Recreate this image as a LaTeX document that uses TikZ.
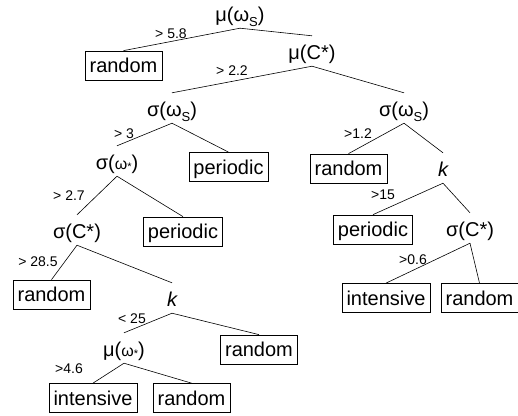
\documentclass[tikz,border=0pt]{standalone}
\usepackage{fontspec}
\setmainfont{Liberation Sans}
% subscript S and the small omega-star used in the split labels
\newcommand{\omS}{ω\raisebox{-0.28em}{\fontsize{13}{13}\selectfont S}}
\newcommand{\omStar}{{\fontsize{16}{16}\selectfont ω}\raisebox{-0.05em}{\fontsize{11}{11}\selectfont *}}
\begin{document}
\begin{tikzpicture}[x=1pt,y=-1pt,
  split/.style={inner sep=0pt, text height=23pt, text depth=7pt, anchor=base,
    font=\fontsize{20}{23}\selectfont},
  leaf/.style={draw, line width=0.75pt, inner xsep=4.6pt, inner ysep=0pt,
    minimum height=29pt, text height=14pt, text depth=0pt,
    font=\fontsize{20}{23}\selectfont},
  cond/.style={inner sep=0pt, font=\fontsize{14}{16}\selectfont},
  branch/.style={line width=0.6pt}]
\useasboundingbox (0,0) rectangle (518,415);

% decision nodes
\node[split] (m1) at (240,21)  {μ(\omS)};
\node[split] (m2) at (312,59)  {μ(C*)};
\node[split] (s1) at (172,116) {σ(\omS)};
\node[split] (s2) at (404,116) {σ(\omS)};
\node[split] (s3) at (117,169) {σ(\omStar)};
\node[split] (s4) at (77,238)  {σ(C*)};
\node[split] (k1) at (172,306) {\itshape k};
\node[split] (m3) at (124,356) {μ(\omStar)};
\node[split] (k2) at (443,176) {\itshape k};
\node[split] (s5) at (470,236) {σ(C*)};

% class leaves
\node[leaf] (r1) at (123.5,65.5) {random};
\node[leaf] (p1) at (228.5,167)  {periodic};
\node[leaf] (p2) at (183,231.5)  {periodic};
\node[leaf] (r2) at (51.5,294.5) {random};
\node[leaf] (r3) at (259,349.5)  {random};
\node[leaf] (i1) at (93,398)     {intensive};
\node[leaf] (r4) at (191.5,398)  {random};
\node[leaf] (r5) at (348.5,168.5) {random};
\node[leaf] (p3) at (373,229.5)  {periodic};
\node[leaf] (i2) at (386,298)    {intensive};
\node[leaf] (r6) at (479.5,298)  {random};

% branches
\foreach \a/\b in {m1/r1, m1/m2, m2/s1, m2/s2, s1/s3, s1/p1, s3/s4, s3/p2,
                   s4/r2, s4/k1, k1/m3, k1/r3, m3/i1, m3/r4,
                   s2/r5, s2/k2, k2/p3, k2/s5, s5/i2, s5/r6}
  \draw[branch] (\a.south) -- (\b.north);

% split thresholds
\node[cond] (c1)  at (171,34)  {> 5.8};
\node[cond] (c2)  at (232,71)  {> 2.2};
\node[cond] (c3)  at (124,134) {> 3};
\node[cond] (c4)  at (358,134) {>1.2};
\node[cond] (c5)  at (69,196)  {> 2.7};
\node[cond] (c6)  at (383,195) {>15};
\node[cond] (c7)  at (38,262)  {> 28.5};
\node[cond] (c8)  at (413,260) {>0.6};
\node[cond] (c9)  at (132,319) {< 25};
\node[cond] (c10) at (69,369)  {>4.6};
\end{tikzpicture}
\end{document}
